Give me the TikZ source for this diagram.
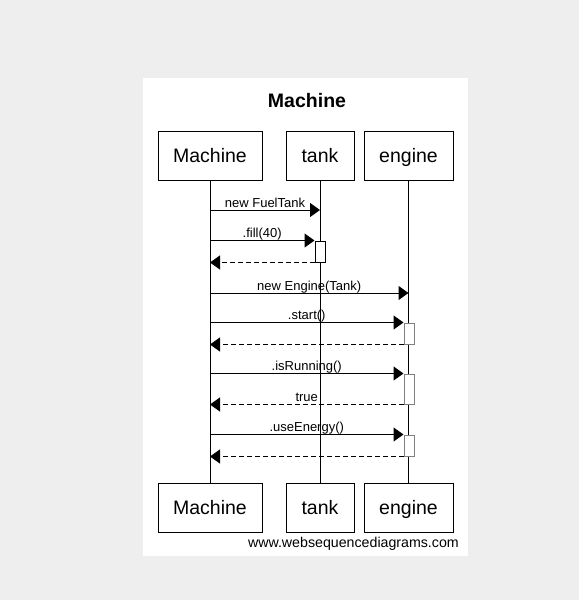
\documentclass[tikz,border=0pt]{standalone}
\usepackage{fontspec}
\setmainfont{Liberation Sans}
\usetikzlibrary{arrows.meta}
\definecolor{bggray}{HTML}{EEEEEE}
\definecolor{actgray}{HTML}{808080}
\begin{document}
\begin{tikzpicture}[x=1pt,y=-1pt,
  actor/.style={draw, line width=1pt, minimum height=49pt, inner sep=0pt,
    text height=14pt, text depth=0pt,
    font=\fontsize{19.5}{22}\selectfont},
  life/.style={line width=1pt},
  msg/.style={line width=1pt, -{Triangle[length=10pt,width=14pt]}},
  ret/.style={msg, dash pattern=on 5pt off 3pt},
  lbl/.style={font=\fontsize{13}{15}\selectfont, anchor=base, inner sep=0pt, yshift=3pt},
  act/.style={draw, fill=white, line width=1pt, minimum width=10pt, inner sep=0pt}]
\useasboundingbox (0,0) rectangle (579,600);
\fill[bggray] (0,0) rectangle (579,600);
\fill[white] (143,78) rectangle (468,556);
\node[anchor=base, font=\bfseries\fontsize{19.5}{22}\selectfont] (title) at (307,107) {Machine};
% actors top
\node[actor, minimum width=104pt] (Mt) at (210,155.5) {Machine};
\node[actor, minimum width=68pt] (Tt) at (320,155.5) {tank};
\node[actor, minimum width=89pt] (Et) at (408.5,155.5) {engine};
% actors bottom
\node[actor, minimum width=104pt] (Mb) at (210,507.5) {Machine};
\node[actor, minimum width=68pt] (Tb) at (320,507.5) {tank};
\node[actor, minimum width=89pt] (Eb) at (408.5,507.5) {engine};
% lifelines
\draw[life] (Mt.south) -- (Mb.north);
\draw[life] (Tt.south) -- (Tb.north);
\draw[life] (Et.south) -- (Eb.north);
% activations
\node[act, minimum height=21pt] (A1) at (320,251.5) {};
\node[act, draw=actgray, minimum height=21pt] (A2) at (409,333.5) {};
\node[act, draw=actgray, minimum height=30pt] (A3) at (409,389) {};
\node[act, draw=actgray, minimum height=21pt] (A4) at (409,445.5) {};
% messages
\draw[msg] (Mt.south |- 0,210) -- node[lbl] {new FuelTank} (Tt.south |- 0,210);
\draw[msg] (Mt.south |- A1.north west) -- node[lbl] {.fill(40)} (A1.north west);
\draw[ret] (A1.south west) -- (Mt.south |- A1.south west);
\draw[msg] (Mt.south |- 0,293) -- node[lbl] {new Engine(Tank)} (Et.south |- 0,293);
\draw[msg] (Mt.south |- A2.north west) -- node[lbl] {.start()} (A2.north west);
\draw[ret] (A2.south west) -- (Mt.south |- A2.south west);
\draw[msg] (Mt.south |- A3.north west) -- node[lbl] {.isRunning()} (A3.north west);
\draw[ret] (A3.south west) -- node[lbl] {true} (Mt.south |- A3.south west);
\draw[msg] (Mt.south |- A4.north west) -- node[lbl] {.useEnergy()} (A4.north west);
\draw[ret] (A4.south west) -- (Mt.south |- A4.south west);
\node[anchor=base east, font=\fontsize{14.2}{16}\selectfont, inner sep=0pt] (wsd) at (459,547) {www.websequencediagrams.com};
\end{tikzpicture}
\end{document}
